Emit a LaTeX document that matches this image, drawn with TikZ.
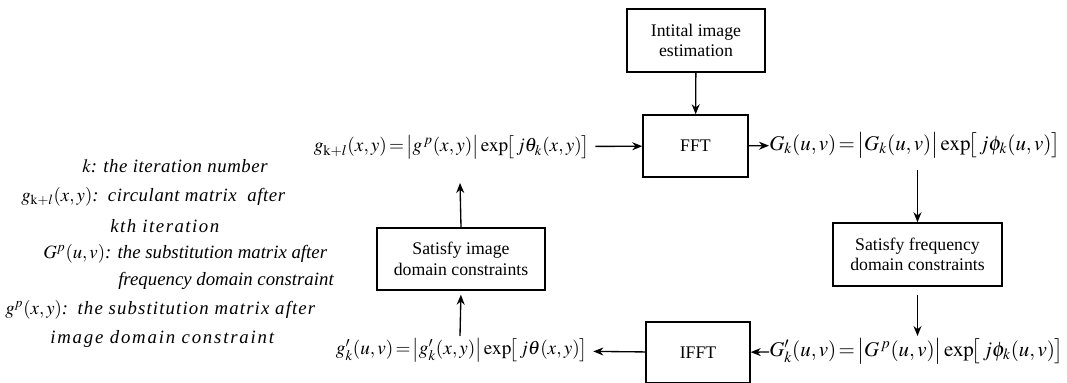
\documentclass[tikz,border=0pt]{standalone}
\usepackage{mathptmx}
\usepackage{fontspec}
\setmainfont{Liberation Serif}
\usetikzlibrary{positioning,arrows.meta}
\tikzset{blk/.style={draw,line width=1.1pt,align=center,inner sep=0pt},
  arr/.style={-{Stealth[length=7.5pt,width=6pt]},line width=1pt},
  eqn/.style={inner sep=0pt,font=\fontsize{14.4}{16}\selectfont},
  bigeqn/.style={inner sep=0pt,font=\fontsize{15.7}{17.5}\selectfont},
  note/.style={inner sep=0pt,anchor=west,font=\fontsize{14.1}{16}\selectfont\itshape}}

\begin{document}
\begin{tikzpicture}[x=0.75pt,y=-0.75pt,font=\fontsize{13.3}{15.5}\selectfont]
\useasboundingbox (0,0) rectangle (1067,382);
% blocks
\node[blk,minimum width=103.5pt,minimum height=47.25pt] (init) at (696,40.5) {Intital image\\estimation};
\node[blk,minimum width=78.75pt,minimum height=46.5pt] (fft) at (695.5,146) {FFT};
\node[blk,minimum width=78pt,minimum height=45.75pt] (ifft) at (698,352.5) {IFFT};
\node[blk,minimum width=126pt,minimum height=46.5pt] (satimg) at (461,259) {Satisfy image\\domain constraints};
\node[blk,minimum width=126.75pt,minimum height=47.25pt] (satfreq) at (917.5,254.5) {Satisfy frequency\\domain constraints};
% formulas
\node[eqn,anchor=east] (gtop) at (590,147) {$g_{\mathrm{k+}l}(x,y)\!=\!\bigl|g^{\,p}(x,y)\bigr|\exp\!\bigl[\,j\theta_k(x,y)\bigr]$};
\node[bigeqn,anchor=west] (Gtop) at (769,145) {$G_k(u,v)\!=\!\bigl|G_k(u,v)\bigr|\exp\!\bigl[\,j\phi_k(u,v)\bigr]$};
\node[eqn,anchor=east] (gbot) at (588,350) {$g'_k(u,v)\!=\!\bigl|g'_k(x,y)\bigr|\exp\!\bigl[\,j\theta(x,y)\bigr]$};
\node[bigeqn,anchor=west] (Gbot) at (769,351) {$G'_k(u,v)\!=\!\bigl|G^{\,p}(u,v)\bigr|\exp\!\bigl[\,j\phi_k(u,v)\bigr]$};
% arrows
\coordinate (a1) at (917.5,170);
\coordinate (a2) at (917.5,336);
\coordinate (a3) at (460,336);
\coordinate (a4) at (460,183);
\draw[arr] (init) -- (fft);
\draw[arr,shorten <=4pt] (gtop) -- (fft);
\draw[arr] (fft) -- (Gtop);
\draw[arr] (a1) -- (satfreq.north);
\draw[arr,shorten <=6pt] (satfreq.south) -- (a2);
\draw[arr] (Gbot) -- (ifft);
\draw[arr,shorten >=4pt] (ifft) -- (gbot);
\draw[arr,shorten >=3pt] (a3) -- (satimg.south);
\draw[arr] (satimg.north) -- (a4);
% notes
\node[note] (n1) at (82,166) {$k$: \addfontfeature{LetterSpace=3}the iteration number};
\node[note] (n2) at (21,197) {$g_{\mathrm{k+}l}(x,y)$:\ \ \addfontfeature{LetterSpace=3}circulant matrix\ \ after};
\node[note] (n3) at (110,226) {\addfontfeature{LetterSpace=8}kth iteration};
\node[note] (n4) at (43,254) {$G^{p}(u,v)$: the substitution matrix after};
\node[note] (n5) at (118,281) {frequency domain constraint};
\node[note] (n6) at (5,310) {$g^{p}(x,y)$:\ \ \addfontfeature{LetterSpace=6}the substitution matrix after};
\node[note] (n7) at (50,339) {\addfontfeature{LetterSpace=9.5}image domain constraint};
\end{tikzpicture}
\end{document}
